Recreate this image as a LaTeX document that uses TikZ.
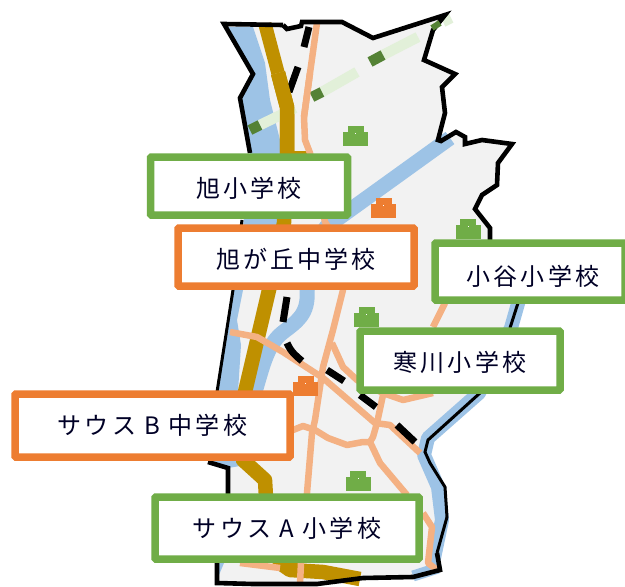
\documentclass[tikz,border=0pt]{standalone}
\usepackage{fontspec}
\newfontfamily\jpfont[LetterSpace=13]{Noto Sans CJK JP}
\definecolor{areafill}{HTML}{F2F2F2}
\definecolor{river}{HTML}{9DC3E6}
\definecolor{gold}{HTML}{BF9000}
\definecolor{peach}{HTML}{F4B183}
\definecolor{palegreen}{HTML}{E2F0D9}
\definecolor{darkgreen}{HTML}{548235}
\definecolor{schoolgreen}{HTML}{70AD47}
\definecolor{schoolorange}{HTML}{ED7D31}
\tikzset{
  x=1pt,y=-1pt,
  outline/.style={draw=black,line width=4.6pt,line join=miter},
  thinline/.style={draw=black,line width=3pt},
  riverband/.style={draw=river,line width=15pt,line join=round},
  goldroad/.style={draw=gold,line width=14.5pt,line join=round},
  peachroad/.style={draw=peach,line width=6.5pt,line join=round},
  railseg/.style={draw=black,line width=7pt},
  gdark/.style={draw=darkgreen,line width=10.5pt},
  glight/.style={draw=palegreen,line width=10.5pt},
  labelbox/.style={draw=#1,fill=white,line width=7.5pt,rounded corners=1pt,inner sep=0pt,font=\jpfont\fontsize{24}{28}\selectfont,text=black!85!blue},
}
\newcommand{\schoolicon}[3]{%
  \fill[#1] (#2-12.5,#3-1) rectangle (#2+12.5,#3+13);
  \fill[#1] (#2-8,#3-7) rectangle (#2+8,#3);
  \fill[white] (#2-.5,#3-.5) rectangle (#2+.5,#3+.5);
}
\newcommand{\lowertext}[2]{\raisebox{0pt}[\dimexpr\height+#1+#1\relax][\depth]{#2}}
\begin{document}
\begin{tikzpicture}
\useasboundingbox (0,0) rectangle (625,587);
\clip (0,0) rectangle (625,587);
\fill[white] (0,0) rectangle (625,587);
% territory
\path[fill=areafill] (224,24) -- (283,25) -- (287,29) -- (301,26) -- (302,22) -- (342,22) -- (373,38) -- (445,15) -- (433,30) -- (424,60) -- (455,74) -- (442,87) -- (445,113) -- (438,140) -- (456,132) -- (465,137) -- (465,144) -- (482,140) -- (512,144) -- (498,163) -- (497,185) -- (482,195) -- (475,209) -- (490,228) -- (490,240) -- (518,303) -- (510,328) -- (480,393) -- (428,440) -- (425,452) -- (430,463) -- (445,487) -- (447,517) -- (437,553) -- (440,570) -- (413,577) -- (363,578) -- (317,584) -- (253,584) -- (217,583) -- (217,563) -- (228,470) -- (208,462) -- (217,390) -- (233,290) -- (242,220) -- (250,153) -- (240,98) -- (253,74) -- cycle;
% rivers
\fill[river] (227,27) -- (253,27) -- (265,63) -- (270,100) -- (285,160) -- (278,228) -- (243,228) -- (250,153) -- (242,98) -- (253,74) -- cycle;
\fill[river] (235,225) -- (243,225) -- (243,290) -- (237,320) -- (241,345) -- (238,392) -- (218,392) -- (233,290) -- cycle;
\draw[riverband] (450,138) -- (325,228) -- (307,290) .. controls (309,315) and (296,322) .. (282,333) .. controls (266,346) and (262,370) .. (254,395) -- (240,462);
\fill[river] (207,458) -- (243,458) -- (240,466) -- (228,468) -- cycle;
\draw[riverband,line width=14pt] (519,300) -- (511,328) -- (479,393) -- (428,438) -- (424,455) -- (438,487) -- (442,520) -- (433,563) -- (435,568);
\draw[riverband,line width=11pt] (438,568) -- (413,576);
\fill[river] (217,563) -- (224,563) -- (219,575) -- cycle;
% gold road
\draw[goldroad,line width=13.5pt] (265,24) -- (278,73);
\draw[goldroad] (278,73) -- (287,107) -- (287,158) -- (284,223) -- (269,290) -- (245,392) -- (243,460) -- (265,480) -- (266,497) -- (280,563) -- (290,570) -- (323,572) -- (360,579);
\fill[gold] (290,151) rectangle (310,158);
% peach roads
\draw[peachroad] (317,23) -- (310,73) -- (304,117) -- (305,140) -- (310,153) -- (325,222) -- (331,231) -- (343,290) -- (333,330) -- (323,367) -- (315,420) -- (312,433) -- (307,493) -- (301,563) -- (300,584);
\draw[peachroad] (230,332) -- (257,337) -- (283,352) -- (323,378) -- (375,423) -- (390,425) -- (420,453);
\draw[peachroad] (332,343) -- (343,367) -- (357,380) -- (383,393) -- (403,400) -- (433,393);
\draw[peachroad] (445,303) -- (433,327);
\draw[peachroad] (383,395) -- (377,423) -- (373,437) -- (370,442) -- (363,442) -- (347,445) -- (328,438) -- (315,430) -- (303,426) -- (293,430);
\draw[peachroad] (370,442) -- (380,463) -- (407,495);
\draw[peachroad] (423,513) -- (432,527) -- (428,563) -- (437,570);
\draw[peachroad] (240,563) -- (280,568);
% railway
\draw[railseg] (309,27) -- (304,47);
\draw[railseg] (298,67) -- (289,92);
\draw[railseg] (287,297) -- (283,322);
\draw[railseg] (287,343) .. controls (291,352) and (296,356) .. (302,361);
\draw[railseg] (327,370) -- (344,381);
\draw[railseg] (360,395) -- (376,407);
\draw[railseg] (397,425) -- (415,442);
% green line
\draw[glight] (260,125) -- (295,108);
\draw[gdark] (250,130) -- (260,125);
\draw[glight] (322,92) -- (357,72);
\draw[gdark] (312,97) -- (322,92);
\draw[glight] (383,55) -- (418,37);
\draw[gdark] (370,62) -- (383,55);
\draw[glight] (443,22) -- (451,18);
% road over green where the road crosses
\draw[peachroad] (310,73) -- (304,117);
\draw[goldroad] (278,73) -- (287,107) -- (287,158);
% boundary
\draw[outline] (283,25) -- (224,24) -- (253,74) -- (240,98) -- (250,153);
\draw[outline] (283,25) -- (287,29) -- (301,26) -- (302,22) -- (342,22) -- (373,38) -- (445,15) -- (433,30) -- (424,60) -- (455,74) -- (442,87) -- (445,113) -- (438,140) -- (441,141) -- (456,132) -- (465,137) -- (465,144) -- (482,140) -- (512,144) -- (498,163) -- (497,185) -- (482,195) -- (475,209) -- (490,228) -- (490,245);
\draw[gdark,line width=6pt] (432,28) -- (440,23);
\draw[thinline] (518,303) -- (510,328) (480,393) -- (428,440) -- (425,452) -- (430,463) -- (445,487) -- (447,517) -- (437,553);
\draw[outline] (437,553) -- (440,570) -- (413,577) -- (363,578) -- (317,584) -- (253,584) -- (217,583) -- (217,563);
\draw[outline] (208,462) -- (228,468) -- (228,495);
\draw[thinline] (242,220) -- (233,290) -- (217,392);
% schools
\schoolicon{schoolgreen}{355.5}{133}
\schoolicon{schoolorange}{383.5}{205}
\schoolicon{schoolgreen}{468}{226}
\schoolicon{schoolgreen}{366.5}{314}
\schoolicon{schoolorange}{305.5}{383}
\schoolicon{schoolgreen}{358}{478}
% labels
\node[labelbox=schoolgreen,minimum width=197pt,minimum height=58pt] (asahi) at (249,186) {\lowertext{2pt}{旭小学校}};
\node[labelbox=schoolorange,minimum width=236pt,minimum height=58pt] (asahigaoka) at (296,257) {\lowertext{2pt}{旭が丘中学校}};
\node[labelbox=schoolgreen,minimum width=190pt,minimum height=57pt] (otani) at (530,271.5) {\hspace{6pt}\lowertext{4.5pt}{小谷小学校}};
\node[labelbox=schoolgreen,minimum width=200pt,minimum height=59pt] (samukawa) at (460,360.5) {\lowertext{2pt}{寒川小学校}};
\node[labelbox=schoolorange,minimum width=275pt,minimum height=63pt] (southb) at (152.5,425.5) {サウス B 中学校};
\node[labelbox=schoolgreen,minimum width=264pt,minimum height=62pt] (southa) at (287,528) {サウス A 小学校};
\end{tikzpicture}
\end{document}
